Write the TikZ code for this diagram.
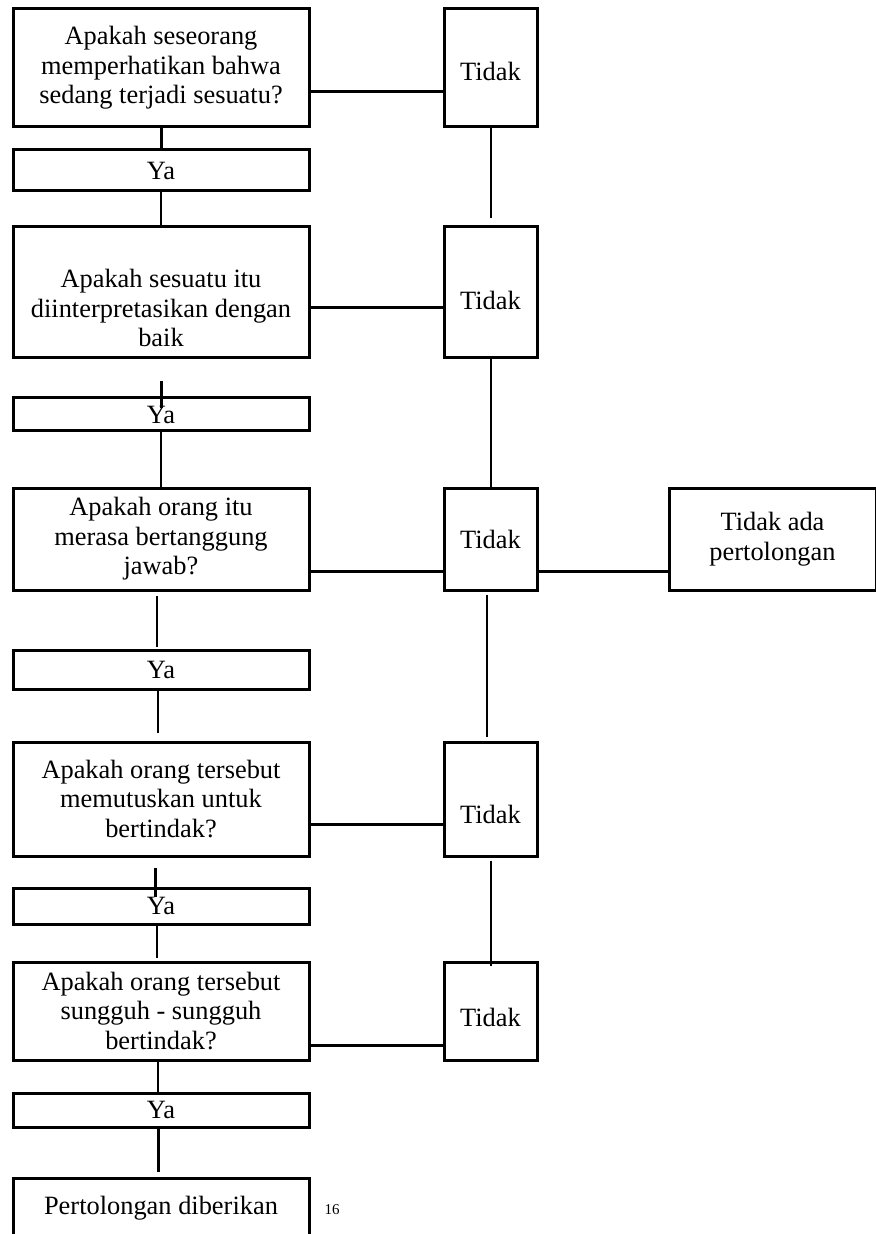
\documentclass[tikz,border=0pt]{standalone}
\usepackage{fontspec}
\setmainfont{Liberation Serif}

\begin{document}
\begin{tikzpicture}[x=0.5pt,y=-0.5pt,
		kotak/.style={draw,line width=1.5pt,align=center,inner sep=2pt,font=\fontsize{13.2}{14.8}\selectfont},
		tanya/.style={kotak,minimum width=148pt},
		tidak/.style={kotak,minimum width=46.5pt},
		garis/.style={line width=1pt},
		tebal/.style={line width=1.5pt}]
		\clip (0,0) rectangle (876,1234);
		
		\node[tanya,minimum height=59pt] (q1) at (161,68) {Apakah seseorang\\memperhatikan bahwa\\sedang terjadi sesuatu?};
		\node[tidak,minimum height=59pt] (t1) at (490.5,68) {\rule{0pt}{12.2pt}Tidak};
		\node[tanya,minimum height=20.5pt] (y1) at (161,170.5) {Ya};
		
		\node[tanya,minimum height=65.5pt] (q2) at (161,292.5) {\rule{0pt}{25pt}Apakah sesuatu itu\\diinterpretasikan dengan\\baik};
		\node[tidak,minimum height=65.5pt] (t2) at (490.5,292.5) {\rule{0pt}{17.2pt}Tidak};
		\node[tanya,minimum height=16.5pt] (y2) at (161,414.5) {Ya};
		
		\node[tanya,minimum height=51pt] (q3) at (161,539) {Apakah orang itu\\merasa bertanggung\\jawab?};
		\node[tidak,minimum height=51pt] (t3) at (490.5,539) {Tidak};
		\node[kotak,minimum width=103.5pt,minimum height=51pt] (r) at (772.5,539) {Tidak ada\\pertolongan};
		\node[tanya,minimum height=19.5pt] (y3) at (161,669.5) {Ya};
		
		\node[tanya,minimum height=57pt] (q4) at (161,799) {Apakah orang tersebut\\memutuskan untuk\\bertindak?};
		\node[tidak,minimum height=57pt] (t4) at (490.5,799) {\rule{0pt}{25pt}Tidak};
		\node[tanya,minimum height=18pt] (y4) at (161,906) {Ya};
		
		\node[tanya,minimum height=49pt] (q5) at (161,1011) {Apakah orang tersebut\\sungguh - sungguh\\bertindak?};
		\node[tidak,minimum height=49pt] (t5) at (490.5,1011) {\rule{0pt}{15.2pt}Tidak};
		\node[tanya,minimum height=17pt] (y5) at (161,1110) {Ya};
		
		\node[tanya,minimum height=30pt] (f) at (161,1208) {Pertolongan diberikan};
		\node[font=\fontsize{7.5}{9}\selectfont] (hal) at (332,1210) {16};
		
		% Tidak
		\draw[tebal] ([yshift=-12pt]q1.east) -- ([yshift=-12pt]t1.west);
		\draw[tebal] ([yshift=-7.75pt]q2.east) -- ([yshift=-7.75pt]t2.west);
		\draw[tebal] ([yshift=-16pt]q3.east) -- ([yshift=-16pt]t3.west);
		\draw[tebal] ([yshift=-16pt]t3.east) -- ([yshift=-16pt]r.west);
		\draw[tebal] ([yshift=-12.5pt]q4.east) -- ([yshift=-12.5pt]t4.west);
		\draw[tebal] ([yshift=-17pt]q5.east) -- ([yshift=-17pt]t5.west);
		
		\draw[garis,shorten >=3.5pt] (t1) -- (t2);
		\draw[garis] (t2) -- (t3);
		\draw[garis,shorten <=1.5pt,shorten >=2pt] ([xshift=-2pt]t3.south) -- ([xshift=-2pt]t4.north);
		\draw[garis,shorten <=1.5pt,shorten >=-2.5pt] (t4) -- (t5);
		
		% Ya
		\draw[tebal] (q1) -- (y1);
		\draw[garis] (y1) -- (q2);
		\draw[tebal,shorten <=11pt,shorten >=-6pt] (q2) -- (y2);
		\draw[garis] (y2) -- (q3);
		\draw[garis,shorten <=2pt,shorten >=1pt] ([xshift=-2pt]q3.south) -- ([xshift=-2pt]y3.north);
		\draw[garis,shorten >=4pt] ([xshift=-1.5pt]y3.south) -- ([xshift=-1.5pt]q4.north);
		\draw[tebal,shorten <=5pt,shorten >=-5pt] ([xshift=-3pt]q4.south) -- ([xshift=-3pt]y4.north);
		\draw[garis,shorten >=1.5pt] ([xshift=-2pt]y4.south) -- ([xshift=-2pt]q5.north);
		\draw[garis] ([xshift=-1.5pt]q5.south) -- ([xshift=-1.5pt]y5.north);
		\draw[tebal,shorten >=2.5pt] ([xshift=-1.5pt]y5.south) -- ([xshift=-1.5pt]f.north);
		\end{tikzpicture}
\end{document}
